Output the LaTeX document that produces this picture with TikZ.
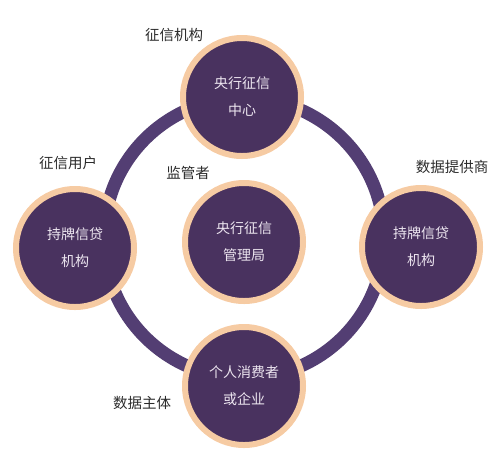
\documentclass[tikz,border=0pt]{standalone}
\usepackage{fontspec}
\newfontfamily\cjk{Noto Sans CJK SC}
\definecolor{ringc}{HTML}{533E73}
\definecolor{fillc}{HTML}{49325F}
\definecolor{peach}{HTML}{F6CBA3}
\definecolor{txtw}{HTML}{EDE6F0}
\definecolor{lab}{HTML}{2B2B2B}
\tikzset{
  bubble/.style={circle, fill=fillc, draw=peach, line width=6pt, minimum size=118pt, inner sep=0pt,
     align=center, text=txtw, font=\cjk\fontsize{14}{27}\selectfont},
  lbl/.style={text=lab, font=\cjk\fontsize{14.5}{17}\selectfont, inner sep=0pt}
}
\begin{document}
\begin{tikzpicture}[x=1pt,y=-1pt]
\useasboundingbox (0,0) rectangle (502,467);
\coordinate (rc) at (244,238);
\draw[ringc, line width=13pt] (rc) circle[radius=140];
\node[bubble] (top) at (242,97) {央行征信\\中心};
\node[bubble] (mid) at (244,242) {央行征信\\管理局};
\node[bubble] (left) at (75,248) {持牌信贷\\机构};
\node[bubble] (right) at (421,247) {持牌信贷\\机构};
\node[bubble] (bot) at (244,386) {个人消费者\\或企业};
\node[lbl] (l1) at (174,35) {征信机构};
\node[lbl] (l2) at (68,163) {征信用户};
\node[lbl] (l3) at (188,173) {监管者};
\node[lbl] (l4) at (452,167) {数据提供商};
\node[lbl] (l5) at (142,403) {数据主体};
\end{tikzpicture}
\end{document}
